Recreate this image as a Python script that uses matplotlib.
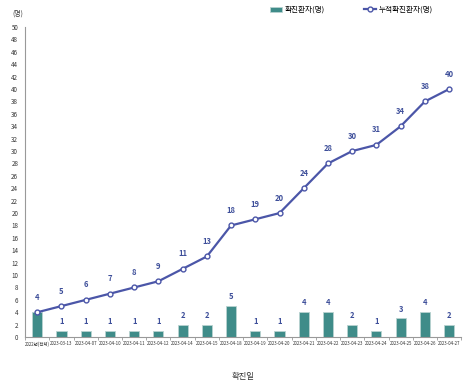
import matplotlib
matplotlib.use('Agg')
import matplotlib.pyplot as plt
import numpy as np

plt.rcParams['font.family'] = ['Noto Sans CJK KR', 'DejaVu Sans']

dates = ['2022년(전체)', '2023-03-13', '2023-04-07', '2023-04-10', '2023-04-11',
         '2023-04-12', '2023-04-14', '2023-04-15', '2023-04-18', '2023-04-19',
         '2023-04-20', '2023-04-21', '2023-04-22', '2023-04-23', '2023-04-24',
         '2023-04-25', '2023-04-26', '2023-04-27']
daily = [4, 1, 1, 1, 1, 1, 2, 2, 5, 1, 1, 4, 4, 2, 1, 3, 4, 2]
cumulative = [4, 5, 6, 7, 8, 9, 11, 13, 18, 19, 20, 24, 28, 30, 31, 34, 38, 40]

bar_color = '#3f8c89'
line_color = '#4b56a8'
label_color = '#3e4f9a'

fig = plt.figure(figsize=(4.74, 3.87), dpi=100)
ax = fig.add_axes([0.053, 0.129, 0.92, 0.801])

x = np.arange(len(dates))
bars = ax.bar(x, daily, width=0.42, color=bar_color, edgecolor='#b9d3d1', linewidth=0.6,
              label='확진환자(명)', zorder=2)
line, = ax.plot(x, cumulative, color=line_color, linewidth=1.6, marker='o', markersize=3.5,
                markerfacecolor='white', markeredgecolor=line_color, markeredgewidth=1,
                label='누적확진환자(명)', zorder=3)

# first bar label sits under the line label in the original, so only one "4" shows
for xi, v, c in zip(x, daily, cumulative):
    if v == c:
        continue
    ax.text(xi, v + 0.8, str(v), ha='center', va='bottom', fontsize=5.5,
            color=label_color, fontweight='bold')
for xi, v in zip(x, cumulative):
    ax.text(xi, v + 1.7, str(v), ha='center', va='bottom', fontsize=5.5,
            color=label_color, fontweight='bold')

ax.set_xlim(-0.5, len(dates) - 0.5)
ax.set_ylim(0, 50)
ax.set_yticks(np.arange(0, 51, 2))
ax.tick_params(axis='y', labelsize=4.5, length=0, pad=5, colors='#333333')
ax.set_xticks(x)
ax.set_xticklabels(dates, fontsize=3.2, color='#333333')
ax.tick_params(axis='x', length=0, pad=3)
ax.set_xticks(np.arange(-0.5, len(dates), 1), minor=True)
ax.tick_params(axis='x', which='minor', length=2, color='#999999')

for s in ['top', 'right']:
    ax.spines[s].set_visible(False)
ax.spines['left'].set_color('#999999')
ax.spines['bottom'].set_color('#999999')

ax.set_xlabel('확진일', fontsize=6, color='#333333', labelpad=18)
fig.text(0.038, 0.965, '(명)', fontsize=5, color='#333333', ha='center', va='center')

ax.legend([bars, line], ['확진환자(명)', '누적확진환자(명)'], loc='upper left',
          bbox_to_anchor=(0.545, 1.09), ncol=2, frameon=False,
          fontsize=5.5, columnspacing=5.2, handlelength=1.6, handletextpad=0.3)

fig.savefig('out.png', dpi=100)
